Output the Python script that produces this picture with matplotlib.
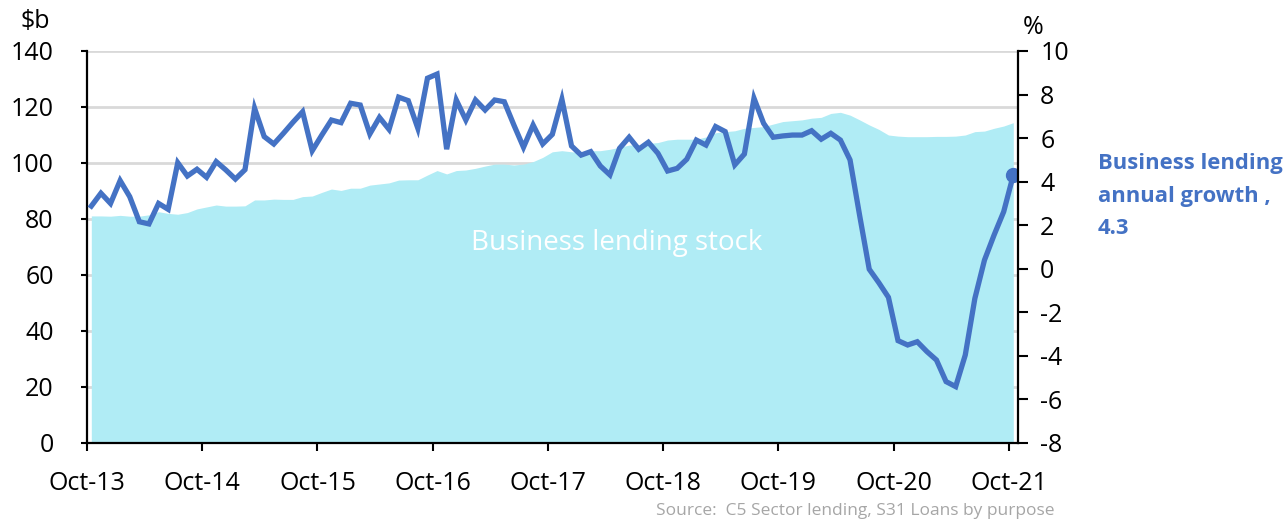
import matplotlib.pyplot as plt
import numpy as np

# growth of business lending, % per year (right axis), monthly from Oct-13
crescimento = [2.88, 3.47, 3.0, 4.05, 3.31, 2.16, 2.06, 3.0, 2.73, 4.87,
               4.26, 4.57, 4.2, 4.92, 4.54, 4.12, 4.55, 7.37, 6.07, 5.73,
               6.22, 6.73, 7.21, 5.42, 6.14, 6.83, 6.71, 7.6, 7.52, 6.19,
               6.95, 6.4, 7.88, 7.72, 6.45, 8.75, 8.94, 5.49, 7.75, 6.83,
               7.75, 7.29, 7.75, 7.67, 6.6, 5.58, 6.6, 5.73, 6.17, 7.78,
               5.64, 5.22, 5.38, 4.72, 4.31, 5.53, 6.04, 5.49, 5.81, 5.3,
               4.49, 4.61, 5.03, 5.91, 5.68, 6.53, 6.3, 4.77, 5.27, 7.83,
               6.68, 6.04, 6.1, 6.14, 6.14, 6.34, 5.95, 6.22, 5.91, 5.0,
               2.45, -0.02, -0.64, -1.31, -3.3, -3.5, -3.35, -3.8, -4.19, -5.18,
               -5.41, -3.96, -1.36, 0.4, 1.55, 2.62, 4.3]

# stock of business lending, $b (left axis)
estoque = [81.1, 81.1, 81.0, 81.3, 81.0, 81.0, 81.5, 82.6, 82.0, 81.7,
           82.3, 83.6, 84.3, 85.0, 84.6, 84.6, 84.7, 86.8, 86.8, 87.1,
           87.0, 87.0, 88.0, 88.2, 89.5, 90.7, 90.2, 91.0, 91.0, 92.1,
           92.5, 92.9, 93.9, 94.0, 94.0, 95.7, 97.3, 96.1, 97.3, 97.5,
           98.1, 98.9, 99.6, 99.6, 99.3, 99.6, 100.5, 102.0, 104.0, 104.4,
           104.0, 103.7, 104.4, 104.4, 104.9, 105.6, 106.4, 106.4, 107.0, 107.3,
           108.2, 108.5, 108.5, 108.5, 109.3, 110.8, 111.2, 111.5, 112.4, 112.7,
           113.0, 113.9, 114.8, 115.1, 115.4, 116.0, 116.3, 117.7, 118.1, 117.1,
           115.4, 113.6, 112.0, 110.0, 109.6, 109.4, 109.4, 109.4, 109.5, 109.5,
           109.6, 110.0, 111.2, 111.4, 112.4, 113.2, 114.4]

rotulos = ['Oct-13', 'Oct-14', 'Oct-15', 'Oct-16', 'Oct-17',
           'Oct-18', 'Oct-19', 'Oct-20', 'Oct-21']

azul = '#4472C4'
ciano = '#B0ECF5'

plt.rcParams['font.family'] = ['Open Sans', 'DejaVu Sans']
plt.rcParams['axes.unicode_minus'] = False

fig = plt.figure(figsize=(12.87, 5.21), dpi=100)
ax = fig.add_axes([87/1287, 1 - 443/521, (1018 - 87)/1287, (443 - 51)/521])
ax2 = ax.twinx()

meses = np.arange(len(estoque)) + 0.45

ax.fill_between(meses, 0, estoque, color=ciano, linewidth=0, zorder=2)
ax.set_ylim(0, 140)
ax.set_yticks(range(0, 141, 20))
ax.set_xlim(0, 96.94)
ax.set_xticks(range(0, 97, 12))
ax.set_xticklabels(rotulos)
ax.set_axisbelow(True)
ax.yaxis.grid(True, color='#D9D9D9', linewidth=2)
ax.text(55.2, 71.5, 'Business lending stock', color='white', fontsize=20,
        ha='center', va='center', zorder=3)

ax2.plot(meses, crescimento, color=azul, linewidth=3.8, solid_joinstyle='miter')
ax2.plot(meses[-1], crescimento[-1], 'o', color=azul, markersize=10)
ax2.set_ylim(-8, 10)
ax2.set_yticks(range(-8, 11, 2))

for a in (ax, ax2):
    a.spines['top'].set_visible(False)
    for s in a.spines.values():
        s.set_linewidth(1.6)
ax.spines['right'].set_visible(False)
ax2.spines['left'].set_visible(False)
ax2.spines['bottom'].set_visible(False)

ax.tick_params(axis='y', direction='out', length=4, width=1.5, pad=20, labelsize=18)
ax.tick_params(axis='x', direction='out', length=6, width=1.5, pad=14, labelsize=18)
ax2.tick_params(axis='y', direction='out', length=7, width=1.5, pad=9, labelsize=18)

fig.text(35/1287, 1 - 22/521, '$b', fontsize=18, ha='center', va='center')
fig.text(1033/1287, 1 - 27/521, '%', fontsize=18, ha='center', va='center')

fig.text(1098/1287, 1 - 153/521, 'Business lending\nannual growth ,\n4.3',
         color=azul, fontsize=15.8, fontweight='bold', ha='left', va='top',
         linespacing=1.72)

fig.text(1055/1287, 1 - 511/521, 'Source:  C5 Sector lending, S31 Loans by purpose',
         color='#A6A6A6', fontsize=12.5, ha='right', va='center')

fig.savefig('out.png', dpi=100)
